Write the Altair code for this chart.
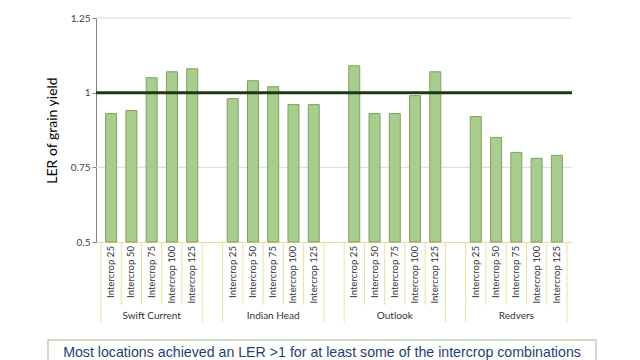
import altair as alt
import pandas as pd

locations = ["Swift Current", "Indian Head", "Outlook", "Redvers"]
treatments = ["Intercrop 25", "Intercrop 50", "Intercrop 75", "Intercrop 100", "Intercrop 125"]
ler_swift = [0.93, 0.94, 1.05, 1.07, 1.08]
ler_indian = [0.98, 1.04, 1.02, 0.96, 0.96]
ler_outlook = [1.09, 0.93, 0.93, 0.99, 1.07]
ler_redvers = [0.92, 0.85, 0.80, 0.78, 0.79]
y_ticks = [0.5, 0.625, 0.75, 0.875, 1.0, 1.125, 1.25]
grid_values = [0.75, 1.25]
reference_value = [1.0]
footer = "Most locations achieved an LER >1 for at least some of the intercrop combinations"

series = [ler_swift, ler_indian, ler_outlook, ler_redvers]
slots_per_group = len(treatments) + 1
n_slots = slots_per_group * len(locations) - 1

rows = []
for g, (loc, vals) in enumerate(zip(locations, series)):
    for i, (t, v) in enumerate(zip(treatments, vals)):
        rows.append({"location": loc, "treatment": t, "pos": g * slots_per_group + i + 0.5, "ler": v})
bars_df = pd.DataFrame(rows)

short_b, long_b = [], []
for g in range(len(locations)):
    start = g * slots_per_group
    for k in range(len(treatments) + 1):
        (long_b if k in (0, len(treatments)) else short_b).append(start + k)

group_df = pd.DataFrame({"location": locations,
                         "c": [g * slots_per_group + len(treatments) / 2 for g in range(len(locations))]})

FONT = "Lato"
W, H = 476, 224

xscale = alt.Scale(domain=[0, n_slots], nice=False, zero=False)
yscale = alt.Scale(domain=[0.5, 1.25], nice=False, zero=False)

bars = alt.Chart(bars_df).mark_bar(size=11, fill="#a8cd8e", stroke="#7ca35e", strokeWidth=1).encode(
    x=alt.X("pos:Q", scale=xscale,
            axis=alt.Axis(title=None, ticks=False, grid=False, labels=False, domainColor="#e4e09a")),
    y=alt.Y("ler:Q", scale=yscale,
            axis=alt.Axis(values=y_ticks, title="LER of grain yield", grid=False,
                          labelExpr="(datum.value * 8) % 2 == 0 ? datum.value + '' : ''",
                          labelFont=FONT, labelFontSize=10, labelColor="#404040",
                          tickColor="#868686", tickSize=4, domainColor="#868686",
                          titleFont=FONT, titleFontSize=14, titleFontWeight="normal",
                          titleColor="#000000", titlePadding=11)),
    y2=alt.datum(0.5),
)

tlabels = alt.Chart(bars_df).mark_text(font=FONT, fontSize=9.6, color="#333333", angle=270,
                                       align="right", baseline="middle", clip=False).encode(
    x=alt.X("pos:Q", scale=xscale), y=alt.value(H + 4), text="treatment:N")

grid = alt.Chart(pd.DataFrame({"v": grid_values})).mark_rule(color="#d9d9d9", strokeWidth=1).encode(
    y=alt.Y("v:Q", scale=yscale))

ref = alt.Chart(pd.DataFrame({"v": reference_value})).mark_rule(color="#1e3816", strokeWidth=3).encode(
    y=alt.Y("v:Q", scale=yscale))

seps_short = alt.Chart(pd.DataFrame({"b": short_b})).mark_rule(color="#e6e29c", strokeWidth=1, clip=False).encode(
    x=alt.X("b:Q", scale=xscale), y=alt.value(H), y2=alt.value(H + 63))

seps_long = alt.Chart(pd.DataFrame({"b": long_b})).mark_rule(color="#e6e29c", strokeWidth=1, clip=False).encode(
    x=alt.X("b:Q", scale=xscale), y=alt.value(H), y2=alt.value(H + 80))

groups = alt.Chart(group_df).mark_text(font=FONT, fontSize=10, color="#333333", clip=False).encode(
    x=alt.X("c:Q", scale=xscale),
    y=alt.value(H + 74),
    text="location:N",
)

box = alt.Chart(pd.DataFrame({"t": [footer]})).mark_rect(fill="white", stroke="#c5ceb4", strokeWidth=1.5, clip=False).encode(
    x=alt.value(-48), x2=alt.value(500), y=alt.value(H + 98), y2=alt.value(H + 130))

foot = alt.Chart(pd.DataFrame({"t": [footer]})).mark_text(font="Liberation Sans", fontSize=14.2, color="#1f3f73", clip=False).encode(
    x=alt.value(226), y=alt.value(H + 111), text="t:N")

chart = alt.layer(grid, bars, ref, seps_short, seps_long, tlabels, groups, box, foot).properties(
    width=W, height=H,
    autosize=alt.AutoSizeParams(type="none"),
    padding={"left": 88, "top": 10, "right": 60, "bottom": 118},
).configure_view(stroke=None)

chart.save("out.html", embed_options={"renderer": "svg", "actions": False})
